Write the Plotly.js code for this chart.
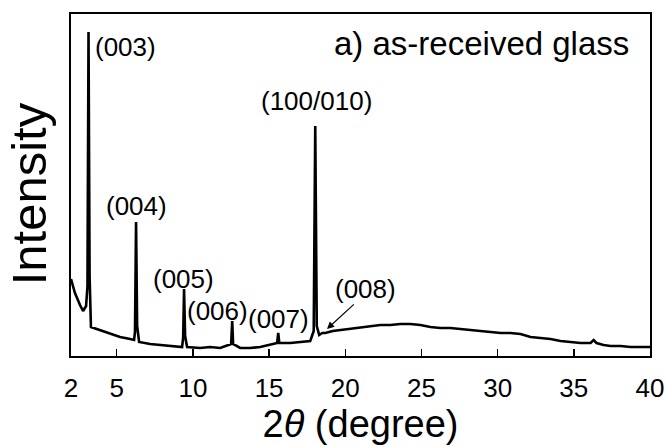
<!DOCTYPE html>
<html>
<head>
<meta charset="utf-8">
<script src="https://cdn.plot.ly/plotly-3.0.1.min.js"></script>
<style>
  html, body { margin: 0; padding: 0; background: #fff; }
  #chart { width: 668px; height: 446px; }
</style>
</head>
<body>
<div id="chart"></div>
<script>
// XRD pattern of the as-received glass: 2θ (degree) vs. intensity (arb. units)
const twoTheta = [
  2.00, 2.26, 2.59, 2.79, 2.99, 3.08, 3.15, 3.22, 3.31, 3.91,
  4.56, 5.22, 5.88, 6.14, 6.20, 6.27, 6.34, 6.47, 7.19, 7.85,
  8.50, 9.29, 9.36, 9.42, 9.49, 9.62, 10.48, 11.13, 11.79, 12.51,
  12.58, 12.64, 13.10, 13.76, 14.42, 15.07, 15.53, 15.60, 15.67, 16.39,
  17.05, 17.70, 17.93, 18.03, 18.13, 18.29, 18.49, 18.69, 19.18, 19.67,
  20.33, 20.99, 21.64, 22.30, 22.96, 23.62, 24.27, 24.93, 25.59, 26.24,
  26.90, 27.56, 28.21, 28.87, 29.53, 30.19, 30.84, 31.50, 32.16, 32.81,
  33.47, 34.13, 34.79, 35.44, 36.10, 36.30, 36.49, 36.95, 37.41, 38.07,
  38.72, 39.38, 40.00
];
const intensity = [
  77, 63, 51, 45, 50, 70, 324, 80, 29, 26,
  22, 19, 17, 16, 24, 134, 30, 14, 12, 11,
  10, 9, 18, 67, 20, 9, 8, 9, 8, 12,
  35, 12, 8, 8, 9, 11, 13, 23, 13, 13,
  14, 15, 25, 230, 30, 21, 23, 23, 25, 26,
  27, 29, 30, 31, 31, 32, 32, 31, 29, 28,
  28, 27, 26, 25, 24, 23, 23, 22, 19, 18,
  17, 15, 14, 13, 13, 16, 13, 11, 10, 10,
  9, 9, 9
];

// Reflection labels and their anchor positions (2θ, intensity)
const peakLabels = ['(003)', '(004)', '(005)', '(006)', '(007)', '(100/010)'];
const labelX = [5.6, 6.27, 9.4, 11.6, 15.6, 18.1];
const labelY = [309, 150, 77, 45, 37, 255];

// Arrowed label for the weak (008) reflection
const arrowLabel = '(008)';
const arrowHead = [18.8, 27];
const arrowTail = [20.66, 53];
const arrowText = [21.3, 67];

const sampleTitle = 'a) as-received glass';
const yLabel = 'Intensity';
const xTicks = [2, 5, 10, 15, 20, 25, 30, 35, 40];

const FONT = 'Arial, "Liberation Sans", sans-serif';

const annotations = peakLabels.map((t, i) => ({
  x: labelX[i], y: labelY[i], xref: 'x', yref: 'y',
  text: t, showarrow: false,
  font: { family: FONT, size: 26, color: '#000' },
  xanchor: 'center', yanchor: 'middle'
}));

annotations.push({
  x: arrowHead[0], y: arrowHead[1], xref: 'x', yref: 'y',
  ax: arrowTail[0], ay: arrowTail[1], axref: 'x', ayref: 'y',
  text: '', showarrow: true, arrowhead: 2, arrowsize: 1.2, arrowwidth: 1.2,
  arrowcolor: '#000', standoff: 0, startstandoff: 0
});
annotations.push({
  x: arrowText[0], y: arrowText[1], xref: 'x', yref: 'y',
  text: arrowLabel, showarrow: false,
  font: { family: FONT, size: 26, color: '#000' },
  xanchor: 'center', yanchor: 'middle'
});
annotations.push({
  x: 0.968, y: 0.915, xref: 'paper', yref: 'paper',
  text: sampleTitle, showarrow: false,
  font: { family: FONT, size: 33, color: '#000' },
  xanchor: 'right', yanchor: 'middle'
});
// Vertical intensity label, set just outside the left frame
annotations.push({
  x: -0.073, y: 0.475, xref: 'paper', yref: 'paper',
  text: yLabel, textangle: -90, showarrow: false,
  font: { family: FONT, size: 49, color: '#000' },
  xanchor: 'center', yanchor: 'middle'
});

const trace = {
  x: twoTheta, y: intensity, type: 'scatter', mode: 'lines',
  line: { color: '#000', width: 2.6 },
  hoverinfo: 'skip'
};

const layout = {
  width: 668, height: 446,
  margin: { l: 71, r: 18, t: 14, b: 90 },
  paper_bgcolor: '#fff', plot_bgcolor: '#fff',
  showlegend: false,
  font: { family: FONT, color: '#000' },
  xaxis: {
    range: [2, 40], tickvals: xTicks, ticktext: xTicks.map(String),
    ticks: 'inside', ticklen: 7, tickwidth: 1.5, tickcolor: '#000',
    showline: true, linecolor: '#000', linewidth: 2, mirror: true,
    showgrid: false, zeroline: false,
    tickfont: { family: FONT, size: 26, color: '#000' },
    ticklabelstandoff: 8,
    title: { text: '2<i>θ</i> (degree)', font: { family: FONT, size: 38, color: '#000' }, standoff: 0 }
  },
  yaxis: {
    range: [0, 342], showticklabels: false, ticks: '',
    showline: true, linecolor: '#000', linewidth: 2, mirror: true,
    showgrid: false, zeroline: false
  },
  annotations: annotations
};

Plotly.newPlot('chart', [trace], layout, { staticPlot: true, displayModeBar: false });
</script>
</body>
</html>
